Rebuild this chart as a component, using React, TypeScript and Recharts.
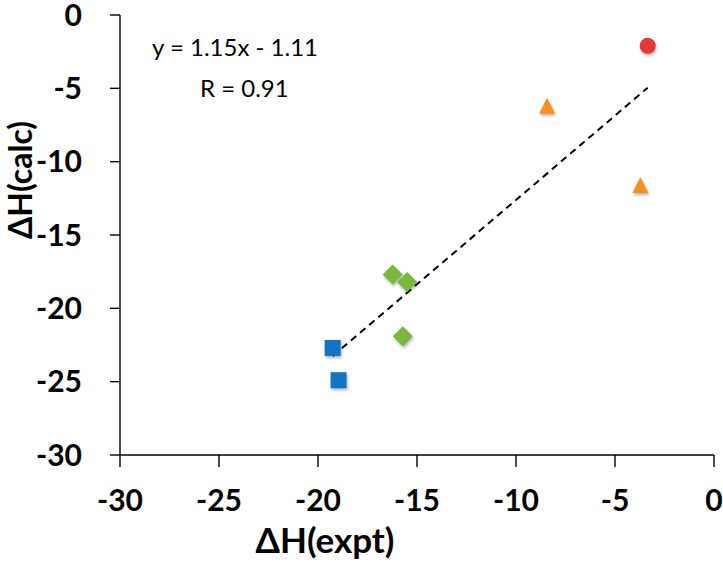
import React from "react";
import {
  ScatterChart,
  Scatter,
  XAxis,
  YAxis,
  ReferenceLine,
} from "recharts";

// values
const xTicks = [-30, -25, -20, -15, -10, -5, 0];
const yTicks = [-30, -25, -20, -15, -10, -5, 0];

const redPoints = [{ x: -3.35, y: -2.1 }];
const orangePoints = [
  { x: -8.43, y: -6.25 },
  { x: -3.72, y: -11.66 },
];
const greenPoints = [
  { x: -16.23, y: -17.7 },
  { x: -15.5, y: -18.2 },
  { x: -15.72, y: -21.9 },
];
const bluePoints = [
  { x: -19.26, y: -22.7 },
  { x: -18.96, y: -24.9 },
];

// linear fit printed on the chart
const trendSlope = 1.15;
const trendIntercept = -1.11;
const trendFrom = -19.26;
const trendTo = -3.35;
const equationText = "y = 1.15x - 1.11";
const rText = "R = 0.91";

const FONT = "Lato, 'Open Sans', sans-serif";
const SHADOW = "drop-shadow(1px 2px 1.5px rgba(0,0,0,0.3))";

type ShapeProps = { cx?: number; cy?: number };

const RedCircle = ({ cx = 0, cy = 0 }: ShapeProps) => (
  <circle cx={cx} cy={cy} r={8} fill="#e2373b" style={{ filter: SHADOW }} />
);

const OrangeTriangle = ({ cx = 0, cy = 0 }: ShapeProps) => (
  <polygon
    points={`${cx},${cy - 9} ${cx - 8},${cy + 7} ${cx + 8},${cy + 7}`}
    fill="#f7901e"
    style={{ filter: SHADOW }}
  />
);

const GreenDiamond = ({ cx = 0, cy = 0 }: ShapeProps) => (
  <polygon
    points={`${cx},${cy - 10} ${cx + 10},${cy} ${cx},${cy + 10} ${cx - 10},${cy}`}
    fill="#79b83c"
    style={{ filter: SHADOW }}
  />
);

const BlueSquare = ({ cx = 0, cy = 0 }: ShapeProps) => (
  <rect x={cx - 8} y={cy - 8} width={16} height={16} fill="#1275c4" style={{ filter: SHADOW }} />
);

const tickStyle = { fill: "#000", fontSize: 30, fontWeight: 700, fontFamily: FONT };
const axisLine = { stroke: "#000", strokeWidth: 1.4 };

export default function App() {
  const trendSegment = [
    { x: trendFrom, y: trendSlope * trendFrom + trendIntercept },
    { x: trendTo, y: trendSlope * trendTo + trendIntercept },
  ];

  return (
    <div style={{ position: "relative", width: 723, height: 563, background: "#fff" }}>
      <style>{"body{margin:0}"}</style>
      <ScatterChart
        width={723}
        height={563}
        margin={{ top: 15, right: 9, left: 0, bottom: 0 }}
      >
        <XAxis
          type="number"
          dataKey="x"
          domain={[-30, 0]}
          ticks={xTicks}
          interval={0}
          height={108}
          tickSize={12}
          tickMargin={23}
          tick={tickStyle}
          axisLine={axisLine}
          tickLine={axisLine}
          label={() => (
            <text
              x={325}
              y={553}
              textAnchor="middle"
              fontFamily={FONT}
              fontWeight={700}
              fontSize={35}
              fill="#000"
            >
              ΔH(expt)
            </text>
          )}
        />
        <YAxis
          type="number"
          dataKey="y"
          domain={[-30, 0]}
          ticks={yTicks}
          interval={0}
          width={120}
          tickSize={10}
          tickMargin={28}
          tick={tickStyle}
          axisLine={axisLine}
          tickLine={axisLine}
          label={() => (
            <text
              x={0}
              y={0}
              transform="translate(32,180) rotate(-90)"
              textAnchor="middle"
              fontFamily={FONT}
              fontWeight={700}
              fontSize={32}
              fill="#000"
            >
              ΔH(calc)
            </text>
          )}
        />
        <ReferenceLine
          segment={trendSegment}
          stroke="#000"
          strokeWidth={2}
          strokeDasharray="7 5"
          ifOverflow="visible"
        />
        <Scatter data={bluePoints} shape={BlueSquare} isAnimationActive={false} />
        <Scatter data={greenPoints} shape={GreenDiamond} isAnimationActive={false} />
        <Scatter data={orangePoints} shape={OrangeTriangle} isAnimationActive={false} />
        <Scatter data={redPoints} shape={RedCircle} isAnimationActive={false} />
      </ScatterChart>
      <svg
        width={723}
        height={563}
        style={{ position: "absolute", left: 0, top: 0, pointerEvents: "none" }}
      >
        <text x={152} y={56} fontFamily={FONT} fontSize={24} fill="#000">
          {equationText}
        </text>
        <text x={200} y={97} fontFamily={FONT} fontSize={24} fill="#000">
          {rText}
        </text>
      </svg>
    </div>
  );
}
